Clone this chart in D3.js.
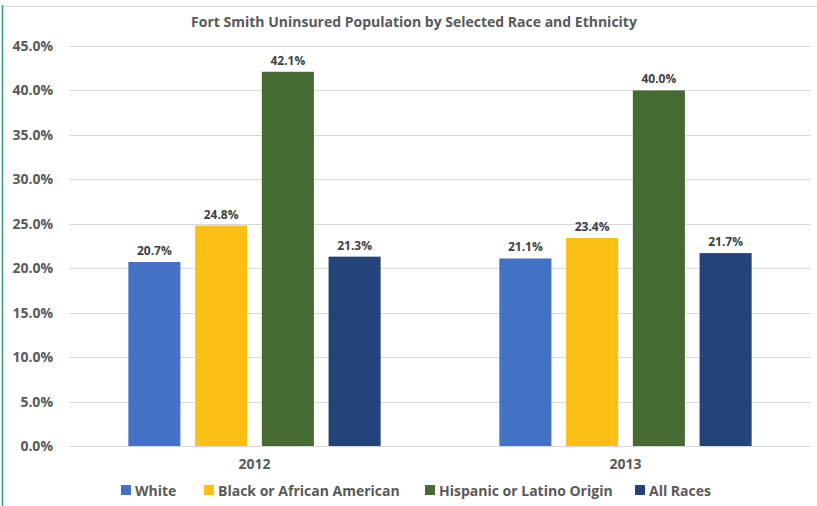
<!DOCTYPE html>
<html><head><meta charset="utf-8">
<script src="https://cdn.jsdelivr.net/npm/d3@7"></script>
<style>body{margin:0;background:#fff;}svg{display:block;font-family:"Open Sans",sans-serif;}</style>
</head><body><svg id="c" width="817" height="506"></svg>
<script>
const years = ["2012", "2013"];
const seriesNames = ["White", "Black or African American", "Hispanic or Latino Origin", "All Races"];
const seriesColors = ["#4472C4", "#FBC013", "#456A32", "#23437A"];
const white = [20.7, 21.1];
const black = [24.8, 23.4];
const hispanic = [42.1, 40.0];
const allRaces = [21.3, 21.7];
const yTicks = [0, 5, 10, 15, 20, 25, 30, 35, 40, 45];
const title = "Fort Smith Uninsured Population by Selected Race and Ethnicity";

const seriesValues = [white, black, hispanic, allRaces];
const svg = d3.select("#c");
const W = 817, H = 506;
const m = {l: 69, r: 6, t: 46, b: 60};

// frame
svg.append("line").attr("x1", 3).attr("x2", 817).attr("y1", 6.5).attr("y2", 6.5).attr("stroke", "#d9d9d9").attr("stroke-width", 1);
svg.append("line").attr("x1", 2.5).attr("x2", 2.5).attr("y1", 5).attr("y2", 506).attr("stroke", "#2a9d8f").attr("stroke-width", 1.5);

const x0 = d3.scaleBand().domain(years).range([m.l, W - m.r]).paddingInner(0.32).paddingOuter(0.16);
const x1 = d3.scaleBand().domain(seriesNames).range([0, x0.bandwidth()]).paddingInner(0.22);
const y = d3.scaleLinear().domain([0, 45]).range([446, 46]);

// grid
svg.append("g").selectAll("line").data(yTicks).join("line")
  .attr("x1", m.l).attr("x2", W - m.r)
  .attr("y1", d => Math.round(y(d)) + 0.5).attr("y2", d => Math.round(y(d)) + 0.5)
  .attr("stroke", "#d9d9d9").attr("stroke-width", 1);

// y axis labels
const yAxis = d3.axisLeft(y).tickValues(yTicks).tickFormat(d => d.toFixed(1) + "%").tickSize(0).tickPadding(0);
const yg = svg.append("g").attr("transform", `translate(53,0)`).call(yAxis);
yg.select(".domain").remove();
yg.selectAll("text").attr("font-size", 14).attr("font-weight", 700).attr("fill", "#595959").attr("font-family", "Open Sans");

// bars
const groups = svg.append("g").selectAll("g").data(years).join("g")
  .attr("transform", d => `translate(${x0(d)},0)`);
groups.selectAll("rect").data((d, i) => seriesNames.map((s, j) => ({s, j, v: seriesValues[j][i]}))).join("rect")
  .attr("x", d => x1(d.s)).attr("width", x1.bandwidth())
  .attr("y", d => y(d.v)).attr("height", d => y(0) - y(d.v))
  .attr("fill", d => seriesColors[d.j]);
groups.selectAll("text").data((d, i) => seriesNames.map((s, j) => ({s, j, v: seriesValues[j][i]}))).join("text")
  .attr("x", d => x1(d.s) + x1.bandwidth() / 2).attr("y", d => y(d.v) - 7)
  .attr("text-anchor", "middle").attr("font-size", 12).attr("font-weight", 700).attr("fill", "#404040")
  .text(d => d.v.toFixed(1) + "%");

// x axis line
svg.append("line").attr("x1", m.l).attr("x2", W - m.r).attr("y1", 446.5).attr("y2", 446.5).attr("stroke", "#d9d9d9");
const xAxis = d3.axisBottom(x0).tickSize(0).tickPadding(0);
const xg = svg.append("g").attr("transform", "translate(0,459)").call(xAxis);
xg.select(".domain").remove();
xg.selectAll("text").attr("font-size", 14).attr("font-weight", 700).attr("fill", "#595959").attr("font-family", "Open Sans");

// title
svg.append("text").attr("x", 414).attr("y", 27).attr("text-anchor", "middle")
  .attr("font-size", 14).attr("font-weight", 700).attr("fill", "#595959").text(title);

// legend
const legX = [121, 204, 425, 635];
const lg = svg.append("g").selectAll("g").data(seriesNames).join("g")
  .attr("transform", (d, i) => `translate(${legX[i]},485)`);
lg.append("rect").attr("width", 10).attr("height", 10).attr("fill", (d, i) => seriesColors[i]);
lg.append("text").attr("x", 14).attr("y", 10.5).attr("font-size", 14).attr("font-weight", 700).attr("fill", "#595959").text(d => d);
</script></body></html>
